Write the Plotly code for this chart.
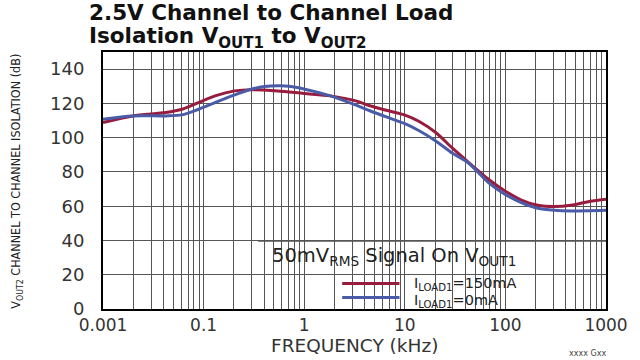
import plotly.graph_objects as go

# ---- data (frequency in axis units, isolation in dB) ----
red_freq = [0.01, 0.0197, 0.042, 0.061, 0.089, 0.13, 0.204, 0.297, 0.545, 0.995, 1.82, 3.33,
            4.49, 6.55, 9.9, 13.9, 20.3, 29.6, 43.2, 67.8, 98.9, 144, 210, 306, 447, 650, 1000]
red_db = [108.8, 112.7, 114.7, 116.6, 120.5, 124.4, 127.3, 128.0, 127.3, 125.8, 124.4, 121.3,
          118.6, 116.0, 113.3, 109.4, 103.0, 94.0, 85.5, 75.7, 68.9, 63.6, 60.5, 59.8, 60.5, 62.5, 64.0]

blue_freq = [0.01, 0.0197, 0.042, 0.061, 0.089, 0.13, 0.204, 0.297, 0.403, 0.587, 0.855, 1.25,
             1.82, 3.33, 4.49, 6.55, 9.9, 13.9, 20.3, 29.6, 43.2, 67.8, 98.9, 144, 210, 306, 447, 1000]
blue_db = [110.8, 112.7, 112.7, 113.3, 116.6, 120.5, 125.0, 128.3, 129.9, 130.3, 129.3, 127.0,
           124.4, 118.8, 115.7, 112.1, 108.3, 104.0, 98.1, 91.0, 85.1, 73.8, 67.0, 62.1, 58.8, 57.6, 57.2, 57.6]

decades = [0.01, 0.1, 1, 10, 100, 1000]
decade_labels = ["0.001", "0.1", "1", "10", "100", "1000"]
y_ticks = [0, 20, 40, 60, 80, 100, 120, 140]

series_names = ["I<sub>LOAD1</sub>=150mA", "I<sub>LOAD1</sub>=0mA"]
RED = "#981c3e"
BLUE = "#4a5ca8"

# minor gridline positions (2..9 per decade)
minor_vals = [d * m for d in decades[:-1] for m in range(2, 10)]

# plot area in pixels
L, R, T, B = 103, 612, 52, 309.5
def px(x):
    return (x - L) / (R - L)
def py(y):
    return (B - y) / (B - T)

fig = go.Figure()
fig.add_trace(go.Scatter(x=red_freq, y=red_db, mode="lines", name=series_names[0],
                         line=dict(color=RED, width=3, shape="spline", smoothing=0.8)))
fig.add_trace(go.Scatter(x=blue_freq, y=blue_db, mode="lines", name=series_names[1],
                         line=dict(color=BLUE, width=3, shape="spline", smoothing=0.8)))

FONT = "DejaVu Sans, Verdana, sans-serif"
GRID = "#555555"

fig.update_layout(
    width=640, height=360,
    margin=dict(l=L, r=640 - R, t=T, b=360 - B),
    paper_bgcolor="white", plot_bgcolor="white",
    showlegend=False,
    font=dict(family=FONT, color="#222222"),
    xaxis=dict(type="log", range=[-2, 3], tickmode="array", tickvals=decades, ticktext=decade_labels,
               showgrid=True, gridcolor=GRID, gridwidth=1, ticks="",
               minor=dict(tickmode="array", tickvals=minor_vals, showgrid=True, gridcolor=GRID,
                          gridwidth=1, ticks=""),
               showline=True, linecolor="black", linewidth=2, mirror=True,
               tickfont=dict(size=17, family=FONT, color="#333333")),
    yaxis=dict(range=[0, 150], tickmode="array", tickvals=y_ticks,
               showgrid=True, gridcolor=GRID, gridwidth=1, ticks="", zeroline=False,
               showline=True, linecolor="black", linewidth=2, mirror=True,
               ticklabelstandoff=13,
               tickfont=dict(size=18, family=FONT, color="#333333")),
)

# white panel for the annotation box (covers grid, below traces)
fig.add_shape(type="rect", xref="paper", yref="paper", x0=px(260), x1=1, y0=py(268), y1=py(241),
              fillcolor="white", line=dict(width=0), layer="between")
fig.add_shape(type="rect", xref="paper", yref="paper", x0=px(332), x1=1, y0=0, y1=py(268),
              fillcolor="white", line=dict(width=0), layer="between")
fig.add_shape(type="line", xref="paper", yref="paper", x0=px(260), x1=1, y0=py(241), y1=py(241),
              line=dict(color="black", width=1.5), layer="between")

# legend samples
fig.add_shape(type="line", xref="paper", yref="paper", x0=px(345), x1=px(403), y0=py(284), y1=py(284),
              line=dict(color=RED, width=3))
fig.add_shape(type="line", xref="paper", yref="paper", x0=px(345), x1=px(403), y0=py(298), y1=py(298),
              line=dict(color=BLUE, width=3))

ann = []
ann.append(dict(text="<b>2.5V Channel to Channel Load</b>", x=px(87), y=py(12), xanchor="left", yanchor="middle",
                font=dict(size=21.5, family="DejaVu Sans, sans-serif", color="#111111")))
ann.append(dict(text="<b>Isolation V<sub>OUT1</sub> to V<sub>OUT2</sub></b>", x=px(87), y=py(37), xanchor="left",
                yanchor="middle", font=dict(size=21.5, family="DejaVu Sans, sans-serif", color="#111111")))
ann.append(dict(text="V<sub>OUT2</sub> CHANNEL TO CHANNEL ISOLATION (dB)", x=px(16), y=py(182), textangle=-90,
                xanchor="center", yanchor="middle",
                font=dict(size=12.5, family="Liberation Sans Narrow, DejaVu Sans Condensed, sans-serif", color="#222222")))
ann.append(dict(text="FREQUENCY (kHz)", x=px(357), y=py(346), xanchor="center", yanchor="middle",
                font=dict(size=18.5, family=FONT, color="#333333")))
ann.append(dict(text="50mV<sub>RMS</sub> Signal On V<sub>OUT1</sub>", x=px(272), y=py(257), xanchor="left",
                yanchor="middle", font=dict(size=19.5, family=FONT, color="#222222")))
ann.append(dict(text=series_names[0], x=px(416), y=py(284), xanchor="left", yanchor="middle",
                font=dict(size=14.5, family=FONT, color="#222222")))
ann.append(dict(text=series_names[1], x=px(416), y=py(301), xanchor="left", yanchor="middle",
                font=dict(size=14.5, family=FONT, color="#222222")))
ann.append(dict(text="xxxx Gxx", x=px(614), y=py(354), xanchor="right", yanchor="middle",
                font=dict(size=8, family=FONT, color="#444444")))
for a in ann:
    a.update(xref="paper", yref="paper", showarrow=False)
fig.update_layout(annotations=ann)

fig.write_html("out.html", post_script="document.body.style.margin='0';",
               config={"displayModeBar": False})
